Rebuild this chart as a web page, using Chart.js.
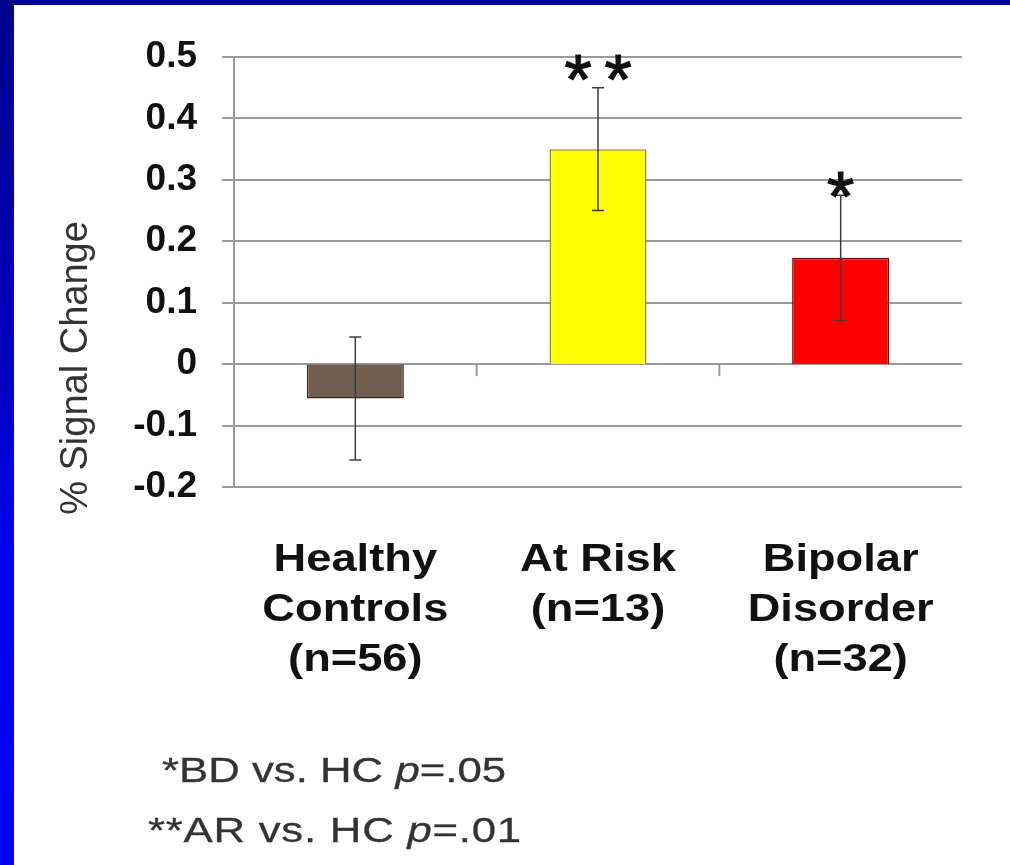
<!DOCTYPE html>
<html>
<head>
<meta charset="utf-8">
<script src="https://cdn.jsdelivr.net/npm/chart.js@4.4.1/dist/chart.umd.min.js"></script>
<style>
  html, body { margin: 0; padding: 0; background: #fff; }
  body { width: 1010px; height: 865px; position: relative; overflow: hidden; }
  #chart { position: absolute; left: 0; top: 0; }
  #topbar { position: absolute; left: 0; top: 0; width: 1010px; height: 5px; background: #000088; }
  #leftbar { position: absolute; left: 0; top: 0; width: 14px; height: 865px;
    background: linear-gradient(to bottom, #00008c 0%, #0000c4 45%, #0000f4 65%, #0000ff 100%); }
  .note { position: absolute; font-family: "Liberation Sans", Arial, sans-serif; font-size: 35px; line-height: 39px;
    color: #333; white-space: nowrap; transform: scaleX(1.25); transform-origin: left top;
    -webkit-text-stroke: 0.3px #333; }
</style>
</head>
<body>
<canvas id="chart" width="1010" height="865"></canvas>
<div id="topbar"></div>
<div id="leftbar"></div>
<div class="note" style="left:162px; top:750px;">*BD vs. HC <i>p</i>=.05</div>
<div class="note" style="left:148px; top:810px; letter-spacing:0.6px;">**AR vs. HC <i>p</i>=.01</div>
<script>
// groups and values
const groups = [['Healthy', 'Controls', '(n=56)'], ['At Risk', '(n=13)'], ['Bipolar', 'Disorder', '(n=32)']];
const signal = [-0.056, 0.35, 0.173];
const stdErr = [0.1, 0.1, 0.102];
const barFill = ['#735f52', '#ffff00', '#ff0000'];
const barEdge = ['#3a2f28', '#8c8c30', '#800000'];
// significance marks, placed in value units
const starText = ['', '**', '*'];
const starAt = [null, 0.483, 0.293];
const yTitle = '% Signal Change';

const gridGrey = '#9a9a9a';

// error bars, stars, tick marks on the zero line, wide category labels, y title
const extras = {
  id: 'extras',
  afterDatasetsDraw(chart) {
    const { ctx, scales: { x, y } } = chart;
    const meta = chart.getDatasetMeta(0);
    ctx.save();
    // small ticks between categories, hanging from the zero line
    const y0 = y.getPixelForValue(0);
    ctx.strokeStyle = gridGrey; ctx.lineWidth = 2;
    for (let i = 0; i < groups.length - 1; i++) {
      const bx = (x.getPixelForValue(i) + x.getPixelForValue(i + 1)) / 2;
      ctx.beginPath(); ctx.moveTo(bx, y0); ctx.lineTo(bx, y0 + 12); ctx.stroke();
    }
    // error bars
    ctx.strokeStyle = '#3c3c3c'; ctx.lineWidth = 1.5;
    meta.data.forEach((bar, i) => {
      const hi = y.getPixelForValue(signal[i] + stdErr[i]);
      const lo = y.getPixelForValue(signal[i] - stdErr[i]);
      ctx.beginPath();
      ctx.moveTo(bar.x, hi); ctx.lineTo(bar.x, lo);
      ctx.moveTo(bar.x - 6, hi); ctx.lineTo(bar.x + 6, hi);
      ctx.moveTo(bar.x - 6, lo); ctx.lineTo(bar.x + 6, lo);
      ctx.stroke();
    });
    // asterisks
    ctx.fillStyle = '#111'; ctx.strokeStyle = '#111'; ctx.lineWidth = 1.2;
    ctx.font = '70px "Liberation Sans", Arial, sans-serif';
    ctx.textAlign = 'center'; ctx.textBaseline = 'alphabetic';
    const m = ctx.measureText('*');
    const shift = (m.actualBoundingBoxDescent - m.actualBoundingBoxAscent) / 2;
    starText.forEach((s, i) => {
      if (!s) return;
      const cy = y.getPixelForValue(starAt[i]);
      const cx = meta.data[i].x;
      const gap = 40;
      const first = cx - gap * (s.length - 1) / 2;
      for (let k = 0; k < s.length; k++) {
        ctx.fillText('*', first + k * gap, cy - shift);
        ctx.strokeText('*', first + k * gap, cy - shift);
      }
    });
    // category labels: bold, a bit wide like the slide
    ctx.fillStyle = '#111';
    ctx.font = 'bold 39px "Liberation Sans", Arial, sans-serif';
    ctx.textBaseline = 'middle';
    const stretch = 1.16;
    groups.forEach((lines, i) => {
      const cx = x.getPixelForValue(i);
      lines.forEach((t, k) => {
        ctx.save();
        ctx.translate(cx, y.bottom + 73 + k * 50);
        ctx.scale(stretch, 1);
        ctx.fillText(t, 0, 0);
        ctx.restore();
      });
    });
    // y axis title
    ctx.translate(87, 368);
    ctx.rotate(-Math.PI / 2);
    ctx.textBaseline = 'alphabetic';
    ctx.font = '38px "Liberation Sans", Arial, sans-serif';
    ctx.fillStyle = '#333';
    ctx.fillText(yTitle, 0, 0);
    ctx.restore();
  }
};

new Chart(document.getElementById('chart'), {
  type: 'bar',
  data: {
    labels: groups,
    datasets: [{
      data: signal,
      backgroundColor: barFill,
      borderColor: barEdge,
      borderWidth: 1.5,
      barPercentage: 0.4,
      categoryPercentage: 1
    }]
  },
  options: {
    responsive: false,
    animation: false,
    devicePixelRatio: 1,
    layout: { padding: { top: 57, right: 48, bottom: 0, left: 0 } },
    plugins: { legend: { display: false }, tooltip: { enabled: false } },
    scales: {
      x: {
        grid: { display: false },
        border: { display: false },
        ticks: { display: false },
        afterFit(scale) { scale.height = 378; }
      },
      y: {
        min: -0.2,
        max: 0.5,
        grid: { color: gridGrey, lineWidth: 2, tickLength: 12 },
        border: { color: gridGrey, width: 2 },
        ticks: {
          stepSize: 0.1,
          padding: 25,
          color: '#111',
          font: { family: '"Liberation Sans", Arial, sans-serif', weight: 'bold', size: 37 },
          callback(v) {
            const r = Math.round(v * 10) / 10;
            return r === 0 ? '0' : r.toFixed(1);
          }
        },
        afterFit(scale) { scale.width = 234; }
      }
    }
  },
  plugins: [extras]
});
</script>
</body>
</html>
